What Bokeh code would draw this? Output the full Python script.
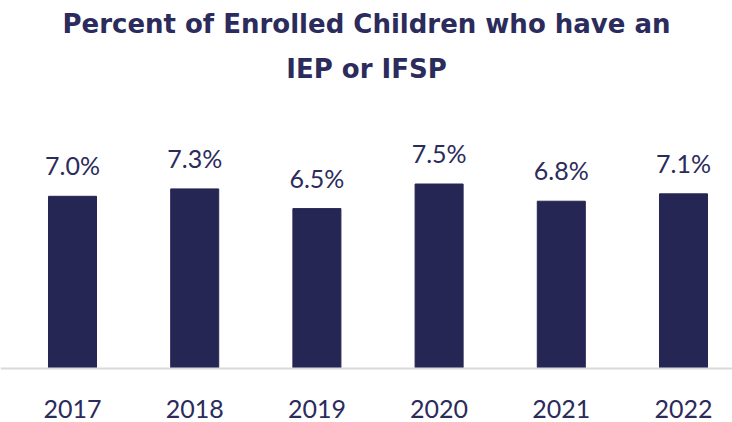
from bokeh.plotting import figure
from bokeh.models import ColumnDataSource, Span, Label, Range1d
from bokeh.core.properties import value
from bokeh.embed import file_html
from bokeh.resources import INLINE

years = ["2017", "2018", "2019", "2020", "2021", "2022"]
percents = [7.0, 7.3, 6.5, 7.5, 6.8, 7.1]
title_lines = ["Percent of Enrolled Children who have an", "IEP or IFSP"]

NAVY = "#262654"
TEXT = "#2b2b5c"
FONT = "Lato"

W, H = 732, 422
xs = list(range(len(years)))
src = ColumnDataSource(dict(
    x=xs, y=percents, year=years,
    lbl=[f"{v:.1f}%" for v in percents],
    zero=[0] * len(years),
))

p = figure(width=W, height=H, output_backend="svg", toolbar_location=None,
           min_border=0, outline_line_color=None,
           x_range=Range1d(-72 / 122.2, (W - 72) / 122.2),
           y_range=Range1d(-54 / 24.6, 368 / 24.6))
p.axis.visible = False
p.grid.visible = False
p.background_fill_color = "white"
p.border_fill_color = "white"

p.vbar(x="x", top="y", bottom=0, width=0.393, source=src,
       fill_color=NAVY, line_color=NAVY)

p.add_layout(Span(location=0, dimension="width", line_color="#d9d9d9", line_width=2))

p.text(x="x", y="y", text="lbl", source=src, text_align="center",
       text_baseline="alphabetic", y_offset=-31, text_font=value(FONT),
       text_font_size="25px", text_color=TEXT)

p.text(x="x", y="zero", text="year", source=src, text_align="center",
       text_baseline="alphabetic", y_offset=40, text_font=value(FONT),
       text_font_size="25px", text_color=TEXT)

for txt, yb in zip(title_lines, [399, 354]):
    p.add_layout(Label(x=W / 2, y=yb, x_units="screen", y_units="screen",
                       text=txt, text_align="center", text_baseline="alphabetic",
                       text_font="DejaVu Sans", text_font_size="26px",
                       text_font_style="bold", text_color=TEXT))

open("out.html", "w").write(file_html(p, INLINE))
